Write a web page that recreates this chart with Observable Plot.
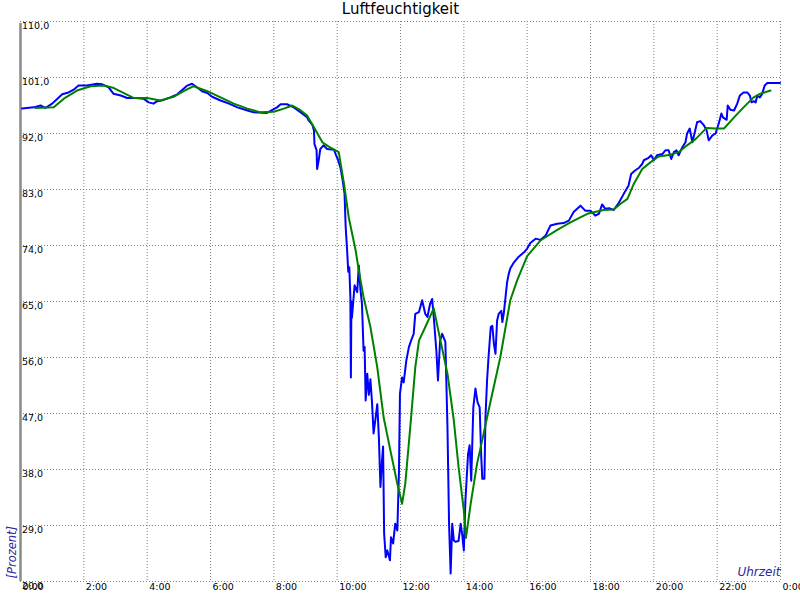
<!DOCTYPE html>
<html><head><meta charset="utf-8">
<script src="https://cdn.jsdelivr.net/npm/d3@7"></script>
<script src="https://cdn.jsdelivr.net/npm/@observablehq/plot@0.6"></script>
<style>body{margin:0;background:#fff}</style>
</head><body><div id="chart"></div>
<script>
const title = "Luftfeuchtigkeit";
const yLabel = "[Prozent]";
const xLabel = "Uhrzeit";
const yTicks = [20, 29, 38, 47, 56, 65, 74, 83, 92, 101, 110];
const xTicks = [0, 2, 4, 6, 8, 10, 12, 14, 16, 18, 20, 22, 24];
const xTickLabels = ["0:00","2:00","4:00","6:00","8:00","10:00","12:00","14:00","16:00","18:00","20:00","22:00","0:00"];

// measured humidity (blue)
const rawTimes = ["0:03","0:25","0:38","0:47","1:00","1:10","1:19","1:31","1:40","1:50","2:06","2:25","2:35","2:47","2:56","3:10","3:22","3:38","3:53","4:03","4:12","4:19","4:31","4:44","4:57","5:09","5:16","5:25","5:35","5:44","5:54","6:03","6:19","6:35","6:51","7:10","7:22","7:47","8:06","8:13","8:25","8:38","8:51","9:03","9:06","9:13","9:16","9:17","9:21","9:22","9:25","9:28","9:34","9:41","9:54","9:57","10:01","10:06","10:10","10:14","10:16","10:19","10:21","10:23","10:25","10:26","10:27","10:28","10:33","10:38","10:41","10:44","10:47","10:50","10:52","10:54","10:57","11:00","11:03","11:06","11:09","11:13","11:16","11:19","11:22","11:25","11:27","11:29","11:32","11:35","11:40","11:42","11:46","11:50","11:54","11:57","11:59","12:03","12:06","12:11","12:16","12:20","12:25","12:28","12:35","12:41","12:47","12:51","12:56","13:00","13:03","13:08","13:11","13:15","13:19","13:25","13:29","13:32","13:35","13:38","13:41","13:44","13:50","13:54","13:57","14:00","14:03","14:08","14:11","14:14","14:18","14:22","14:26","14:30","14:33","14:35","14:39","14:41","14:44","14:47","14:51","14:54","14:57","15:00","15:03","15:06","15:11","15:13","15:16","15:19","15:22","15:25","15:28","15:35","15:44","15:54","16:00","16:06","16:16","16:25","16:35","16:44","16:57","17:09","17:19","17:28","17:41","17:50","18:00","18:09","18:16","18:22","18:28","18:35","18:44","18:54","19:03","19:12","19:17","19:25","19:32","19:38","19:41","19:50","19:55","20:00","20:06","20:16","20:22","20:28","20:33","20:38","20:43","20:47","20:54","21:00","21:03","21:08","21:13","21:17","21:22","21:28","21:35","21:40","21:44","21:51","21:57","22:03","22:08","22:11","22:18","22:20","22:25","22:32","22:38","22:43","22:50","22:57","23:02","23:05","23:09","23:13","23:16","23:21","23:25","23:30","23:35","23:59"];
const rawValues = [96.0,96.2,96.5,96.1,96.8,97.6,98.3,98.6,99.0,99.7,99.7,100.0,99.9,99.4,98.4,98.1,97.7,97.7,97.6,97.0,96.8,97.2,97.4,97.8,98.3,99.2,99.7,100.0,99.4,98.8,98.5,97.9,97.3,96.8,96.2,95.7,95.4,95.3,96.2,96.7,96.7,96.2,95.4,94.6,94.1,93.4,92.5,90.3,89.3,86.3,87.7,89.5,90.1,89.5,89.4,88.7,87.9,86.6,84.7,82.3,77.2,73.0,69.8,70.5,65.7,52.8,65.0,62.4,67.6,66.5,70.8,67.0,64.6,57.1,57.7,49.1,53.4,50.0,52.5,48.8,43.8,46.4,48.5,43.2,35.2,39.5,41.7,27.7,23.9,25.0,23.4,27.1,26.1,29.3,28.2,37.4,50.2,52.8,52.0,55.5,57.7,58.7,59.8,63.0,63.3,65.2,63.0,62.5,64.6,65.4,62.5,57.0,52.3,58.7,59.8,58.5,44.8,29.3,21.3,29.3,26.6,26.4,26.5,29.3,27.5,25.0,33.0,40.5,41.9,36.2,48.0,51.0,48.8,48.0,40.0,36.5,36.5,46.4,52.3,56.3,60.9,61.1,58.2,56.6,61.9,63.0,63.5,61.7,63.3,65.7,68.1,69.4,70.3,71.3,72.2,72.9,73.5,74.4,75.1,74.9,75.6,77.2,77.5,77.6,78.0,79.4,80.4,79.6,79.6,78.8,79.1,80.6,79.9,80.0,79.7,80.9,82.3,83.6,85.5,86.1,86.5,87.1,87.7,88.1,88.5,87.7,88.5,88.7,89.3,89.3,87.9,89.0,89.3,88.5,89.8,90.6,92.0,92.8,90.6,92.0,93.8,94.0,93.3,92.5,90.9,91.7,92.0,93.6,95.2,94.6,94.2,96.5,95.8,95.7,96.8,98.1,98.6,98.6,98.1,97.0,97.2,97.0,98.1,97.8,98.3,99.7,100.1,100.1];

// smoothed humidity (green)
const smoothTimes = ["0:28","1:03","1:22","1:47","2:13","2:38","2:57","3:16","3:35","4:00","4:25","4:50","5:09","5:28","5:54","6:19","6:44","7:10","7:35","8:00","8:19","8:35","8:51","9:03","9:16","9:32","9:44","10:03","10:13","10:22","10:35","10:41","10:50","11:03","11:16","11:28","11:41","11:54","12:03","12:09","12:19","12:28","12:35","12:47","13:03","13:13","13:29","13:41","13:50","14:00","14:04","14:13","14:25","14:32","14:51","15:09","15:28","15:41","16:00","16:25","16:57","17:22","17:54","18:25","18:44","18:57","19:10","19:22","19:38","19:54","20:09","20:32","20:47","21:03","21:19","21:40","21:57","22:13","22:32","22:50","23:09","23:22","23:41"];
const smoothValues = [96.1,96.2,97.6,98.9,99.6,99.7,99.3,98.5,97.7,97.7,97.3,97.9,98.8,99.6,98.8,97.8,96.8,96.0,95.4,95.5,96.0,96.5,95.7,94.9,93.0,90.6,89.9,89.0,83.9,78.5,73.2,70.0,65.7,60.9,54.4,46.4,41.0,35.7,32.5,35.7,45.3,54.4,58.7,60.9,63.9,59.8,53.4,45.9,38.4,31.4,27.0,32.5,38.9,41.6,49.1,56.0,65.2,68.4,72.3,74.8,76.5,77.7,79.1,79.7,79.8,80.7,81.5,83.9,86.3,87.4,88.3,88.6,89.0,90.1,91.1,92.9,92.8,92.8,94.6,96.2,97.8,98.4,98.9];

const toHours = s => { const [h, m] = s.split(":").map(Number); return h + m / 60; };
const raw = rawTimes.map((t, i) => ({t: toHours(t), v: rawValues[i]}));
const smooth = smoothTimes.map((t, i) => ({t: toHours(t), v: smoothValues[i]}));
const fmtY = d => d.toFixed(1).replace(".", ",");
const grid = {stroke: "#808080", strokeOpacity: 1, strokeDasharray: "1,2", strokeWidth: 1};
const labelColor = "#2a2a9c";

const chart = Plot.plot({
  width: 800, height: 600,
  marginLeft: 20, marginRight: 20, marginTop: 21, marginBottom: 19,
  x: {domain: [0, 24], axis: null},
  y: {domain: [20, 110], axis: null},
  style: {fontFamily: "'DejaVu Sans', sans-serif", background: "#fff", color: "#000"},
  marks: [
    Plot.ruleY(yTicks, {y: d => d, ...grid}),
    Plot.ruleX(xTicks, {x: d => d, ...grid}),
    Plot.ruleX([0], {x: d => d, stroke: "#8a8a8a", strokeWidth: 2.5, y1: 20, y2: 110, insetBottom: -2}),
    Plot.line(raw, {x: "t", y: "v", stroke: "#0000ff", strokeWidth: 2}),
    Plot.line(smooth, {x: "t", y: "v", stroke: "#008000", strokeWidth: 2}),
    Plot.text(yTicks, {x: () => 0, y: d => d, text: fmtY, textAnchor: "start", lineAnchor: "top", dx: 1.5, dy: 1, fontSize: 9.5, fill: "#000"}),
    Plot.text(xTicks, {x: d => d, y: () => 20, text: (d, i) => xTickLabels[i], textAnchor: "start", lineAnchor: "top", dx: 2, dy: 2, fontSize: 9.5, fill: "#000"}),
    Plot.text([title], {text: d => d, frameAnchor: "top", dy: -8, lineAnchor: "bottom", fontSize: 15, fill: "#000"}),
    Plot.text([xLabel], {text: d => d, frameAnchor: "bottom-right", dy: -6, textAnchor: "end", lineAnchor: "bottom", fontSize: 12, fontStyle: "italic", fill: labelColor}),
    Plot.text([yLabel], {text: d => d, frameAnchor: "bottom-left", dx: -5, dy: -3, rotate: -90, textAnchor: "start", lineAnchor: "bottom", fontSize: 11.5, fontStyle: "italic", fill: labelColor})
  ]
});
document.getElementById("chart").appendChild(chart);
</script>
</body></html>
